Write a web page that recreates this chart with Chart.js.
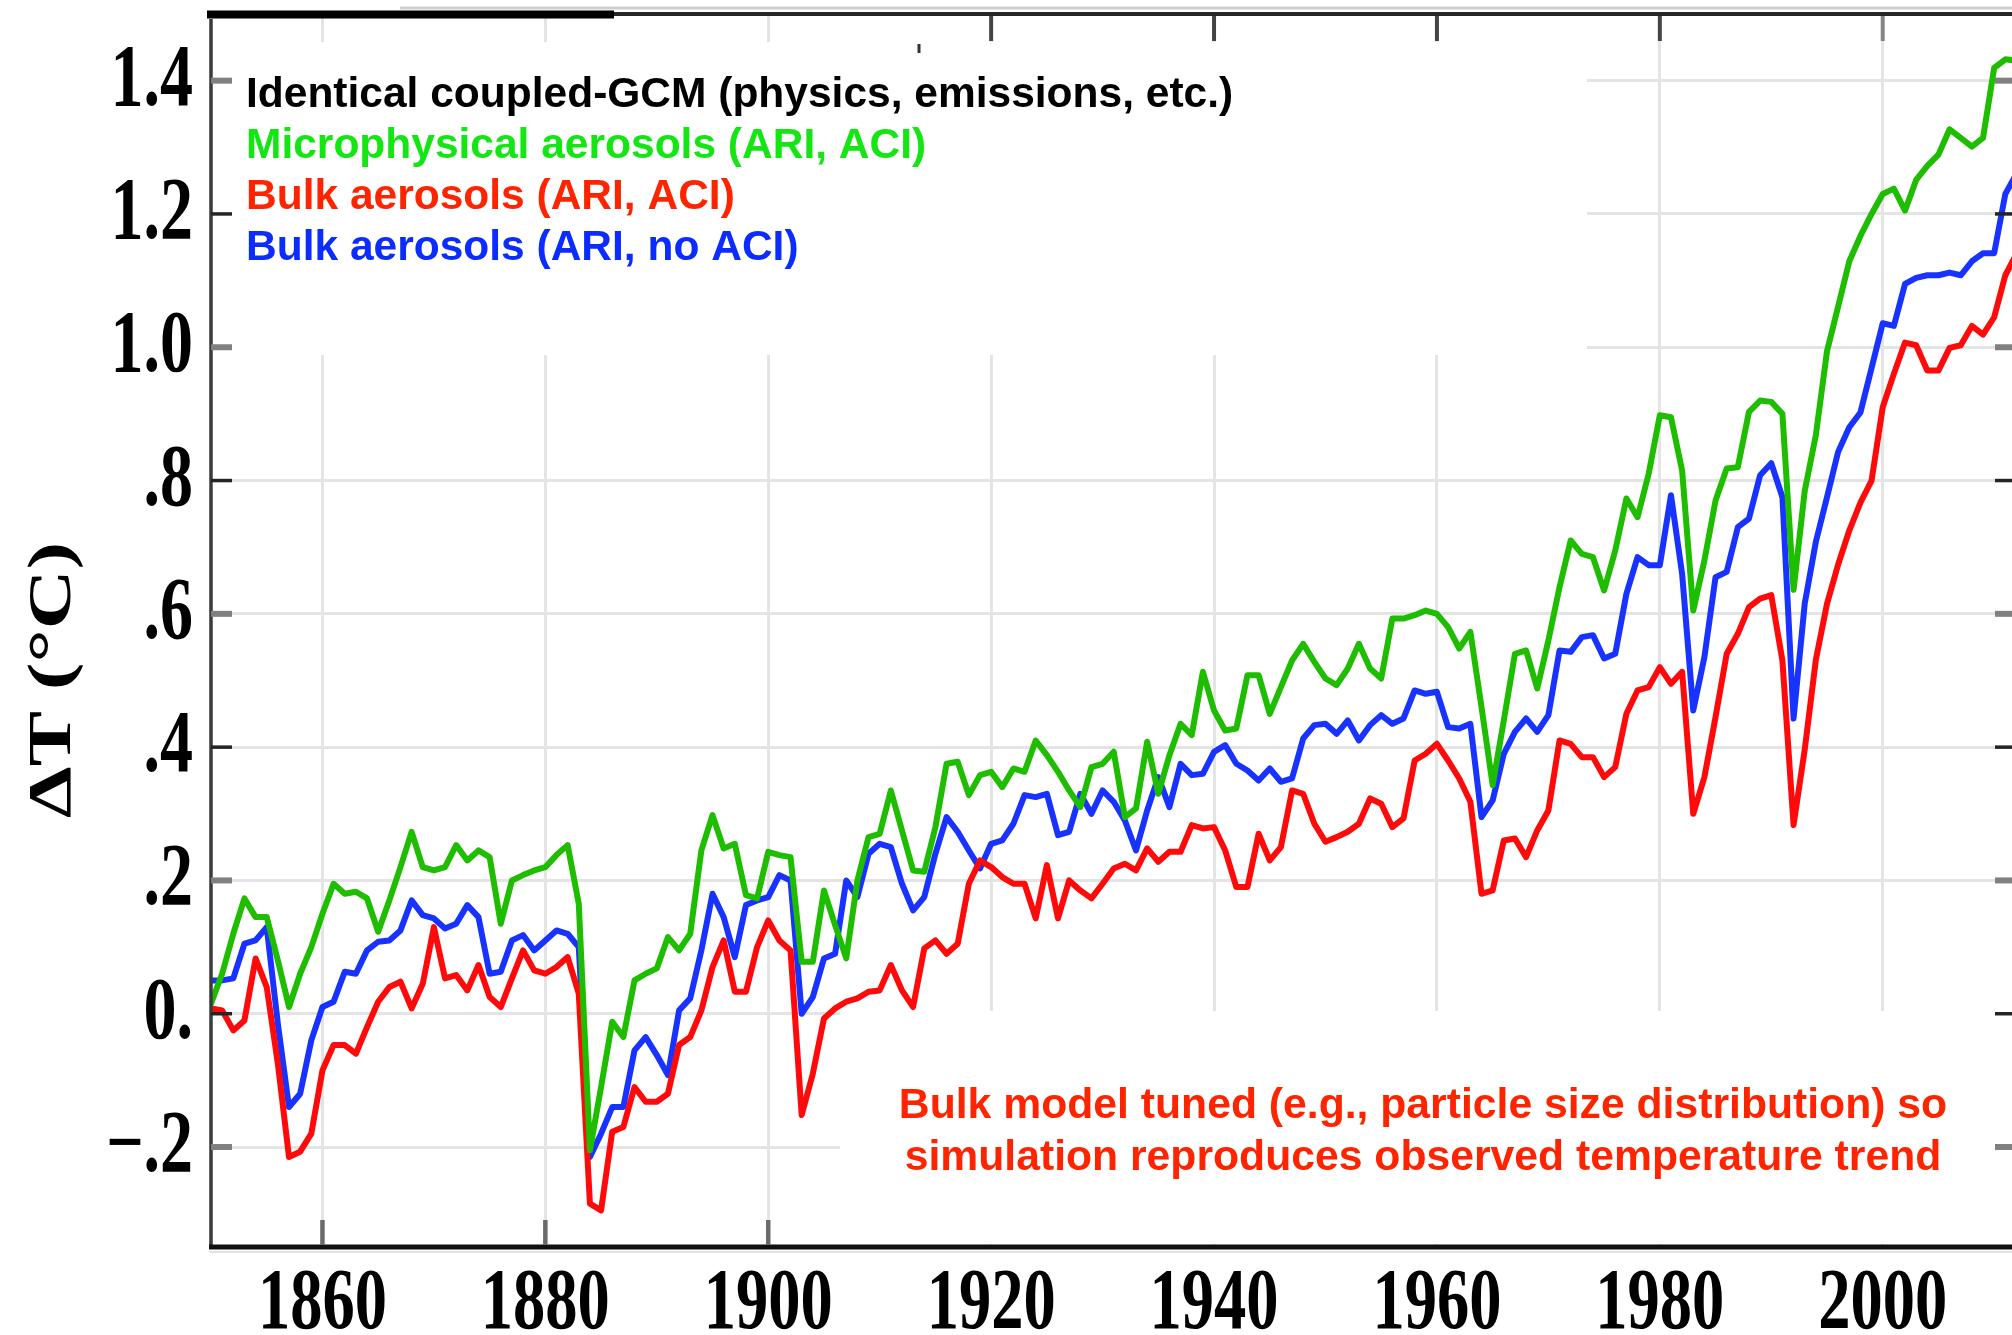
<!DOCTYPE html>
<html>
<head>
<meta charset="utf-8">
<title>ΔT (°C) – coupled-GCM aerosol runs</title>
<script src="https://cdn.jsdelivr.net/npm/chart.js@4.4.1/dist/chart.umd.min.js"></script>
<style>
  html, body { margin: 0; padding: 0; background: #fff; overflow: hidden; }
  canvas { display: block; }
</style>
</head>
<body>
<canvas id="chart" width="2012" height="1335"></canvas>
<script>
// annual model output, 1850-2012
const years = [
  1850, 1851, 1852, 1853, 1854, 1855, 1856, 1857, 1858, 1859,
  1860, 1861, 1862, 1863, 1864, 1865, 1866, 1867, 1868, 1869,
  1870, 1871, 1872, 1873, 1874, 1875, 1876, 1877, 1878, 1879,
  1880, 1881, 1882, 1883, 1884, 1885, 1886, 1887, 1888, 1889,
  1890, 1891, 1892, 1893, 1894, 1895, 1896, 1897, 1898, 1899,
  1900, 1901, 1902, 1903, 1904, 1905, 1906, 1907, 1908, 1909,
  1910, 1911, 1912, 1913, 1914, 1915, 1916, 1917, 1918, 1919,
  1920, 1921, 1922, 1923, 1924, 1925, 1926, 1927, 1928, 1929,
  1930, 1931, 1932, 1933, 1934, 1935, 1936, 1937, 1938, 1939,
  1940, 1941, 1942, 1943, 1944, 1945, 1946, 1947, 1948, 1949,
  1950, 1951, 1952, 1953, 1954, 1955, 1956, 1957, 1958, 1959,
  1960, 1961, 1962, 1963, 1964, 1965, 1966, 1967, 1968, 1969,
  1970, 1971, 1972, 1973, 1974, 1975, 1976, 1977, 1978, 1979,
  1980, 1981, 1982, 1983, 1984, 1985, 1986, 1987, 1988, 1989,
  1990, 1991, 1992, 1993, 1994, 1995, 1996, 1997, 1998, 1999,
  2000, 2001, 2002, 2003, 2004, 2005, 2006, 2007, 2008, 2009,
  2010, 2011, 2012
];

const microphysical = [
  0.015, 0.06, 0.12, 0.173, 0.145, 0.145, 0.08, 0.01, 0.06, 0.10,
  0.15, 0.195, 0.18, 0.183, 0.173, 0.123, 0.17, 0.22, 0.273, 0.22,
  0.215, 0.22, 0.253, 0.23, 0.245, 0.235, 0.135, 0.2, 0.208, 0.215,
  0.22, 0.238, 0.253, 0.165, -0.205, -0.11, -0.012, -0.035, 0.05, 0.06,
  0.068, 0.115, 0.095, 0.12, 0.245, 0.298, 0.248, 0.255, 0.178, 0.173,
  0.243, 0.238, 0.235, 0.078, 0.078, 0.185, 0.133, 0.083, 0.2, 0.265,
  0.27, 0.335, 0.275, 0.215, 0.213, 0.28, 0.375, 0.378, 0.328, 0.358,
  0.363, 0.34, 0.368, 0.363, 0.41, 0.388, 0.363, 0.335, 0.31, 0.37,
  0.375, 0.393, 0.295, 0.308, 0.408, 0.33, 0.388, 0.435, 0.418, 0.513,
  0.455, 0.425, 0.428, 0.508, 0.508, 0.45, 0.49, 0.53, 0.555, 0.528,
  0.503, 0.493, 0.518, 0.555, 0.518, 0.503, 0.593, 0.593, 0.598, 0.605,
  0.6, 0.58, 0.548, 0.573, 0.46, 0.343, 0.44, 0.54, 0.545, 0.488,
  0.56, 0.64, 0.71, 0.69, 0.685, 0.635, 0.695, 0.773, 0.745, 0.81,
  0.898, 0.895, 0.815, 0.605, 0.68, 0.77, 0.818, 0.82, 0.903, 0.92,
  0.918, 0.9, 0.636, 0.784, 0.868, 0.994, 1.061, 1.129, 1.167, 1.2,
  1.23, 1.238, 1.205, 1.251, 1.272, 1.289, 1.327, 1.314, 1.301, 1.314,
  1.419, 1.432, 1.43
];

const bulkAci = [
  0.008, 0.005, -0.025, -0.01, 0.083, 0.04, -0.075, -0.215, -0.207, -0.18,
  -0.085, -0.047, -0.047, -0.06, -0.02, 0.018, 0.04, 0.048, 0.008, 0.045,
  0.13, 0.053, 0.058, 0.035, 0.073, 0.025, 0.01, 0.053, 0.095, 0.065,
  0.06, 0.07, 0.085, 0.03, -0.285, -0.295, -0.177, -0.17, -0.11, -0.132,
  -0.132, -0.12, -0.047, -0.035, 0.005, 0.07, 0.11, 0.033, 0.033, 0.1,
  0.14, 0.11, 0.095, -0.152, -0.09, -0.007, 0.008, 0.018, 0.023, 0.033,
  0.035, 0.073, 0.035, 0.01, 0.098, 0.11, 0.09, 0.105, 0.195, 0.23,
  0.22, 0.205, 0.195, 0.195, 0.143, 0.223, 0.143, 0.2, 0.185, 0.173,
  0.195, 0.218, 0.225, 0.215, 0.248, 0.228, 0.243, 0.243, 0.283, 0.278,
  0.28, 0.245, 0.19, 0.19, 0.27, 0.23, 0.25, 0.335, 0.33, 0.285,
  0.258, 0.265, 0.273, 0.285, 0.323, 0.315, 0.28, 0.293, 0.38, 0.39,
  0.405, 0.38, 0.353, 0.318, 0.18, 0.185, 0.26, 0.263, 0.235, 0.275,
  0.305, 0.41, 0.405, 0.385, 0.385, 0.355, 0.37, 0.45, 0.485, 0.49,
  0.52, 0.495, 0.513, 0.3, 0.355, 0.445, 0.54, 0.57, 0.61, 0.623,
  0.628, 0.53, 0.283, 0.396, 0.531, 0.615, 0.674, 0.725, 0.767, 0.8,
  0.91, 0.96, 1.007, 1.003, 0.965, 0.965, 0.999, 1.003, 1.032, 1.019,
  1.045, 1.108, 1.14
];

const bulkNoAci = [
  0.05, 0.05, 0.053, 0.105, 0.11, 0.13, -0.015, -0.14, -0.12, -0.04,
  0.01, 0.018, 0.063, 0.06, 0.095, 0.108, 0.11, 0.125, 0.17, 0.148,
  0.143, 0.128, 0.135, 0.163, 0.145, 0.06, 0.063, 0.11, 0.118, 0.095,
  0.11, 0.125, 0.12, 0.1, -0.215, -0.18, -0.14, -0.14, -0.055, -0.035,
  -0.062, -0.092, 0.005, 0.023, 0.095, 0.18, 0.145, 0.085, 0.163, 0.17,
  0.175, 0.208, 0.2, 0.0, 0.025, 0.083, 0.09, 0.2, 0.175, 0.24,
  0.255, 0.25, 0.195, 0.155, 0.175, 0.24, 0.295, 0.273, 0.245, 0.218,
  0.255, 0.26, 0.285, 0.328, 0.325, 0.33, 0.268, 0.273, 0.33, 0.3,
  0.335, 0.318, 0.29, 0.245, 0.305, 0.355, 0.31, 0.375, 0.358, 0.36,
  0.393, 0.403, 0.375, 0.365, 0.35, 0.368, 0.348, 0.353, 0.413, 0.433,
  0.435, 0.42, 0.44, 0.41, 0.433, 0.448, 0.435, 0.443, 0.485, 0.48,
  0.483, 0.43, 0.428, 0.435, 0.295, 0.32, 0.39, 0.423, 0.443, 0.423,
  0.448, 0.545, 0.543, 0.565, 0.568, 0.533, 0.54, 0.63, 0.685, 0.673,
  0.673, 0.778, 0.66, 0.455, 0.535, 0.655, 0.663, 0.73, 0.743, 0.808,
  0.826, 0.775, 0.443, 0.615, 0.708, 0.775, 0.843, 0.88, 0.902, 0.969,
  1.036, 1.032, 1.095, 1.104, 1.108, 1.108, 1.112, 1.108, 1.129, 1.141,
  1.141, 1.23, 1.26
];

const xTicks = [1860, 1880, 1900, 1920, 1940, 1960, 1980, 2000];
const xTickLabels = ['1860', '1880', '1900', '1920', '1940', '1960', '1980', '2000'];
const yTicks = [1.4, 1.2, 1.0, 0.8, 0.6, 0.4, 0.2, 0, -0.2];
const yTickLabels = ['1.4', '1.2', '1.0', '.8', '.6', '.4', '.2', '0.', '\u2212.2'];

const legendLines = [
  { text: 'Identical coupled-GCM (physics, emissions, etc.)', color: '#000000' },
  { text: 'Microphysical aerosols (ARI, ACI)', color: '#14e614' },
  { text: 'Bulk aerosols (ARI, ACI)', color: '#ff2400' },
  { text: 'Bulk aerosols (ARI, no ACI)', color: '#0c2cff' }
];
const noteLines = [
  'Bulk model tuned (e.g., particle size distribution) so',
  'simulation reproduces observed temperature trend'
];

const pts = (vals) => vals.map((v, i) => ({ x: years[i], y: v }));

const SERIF = '"Liberation Serif", "DejaVu Serif", serif';
const SANS = '"Liberation Sans", Arial, sans-serif';

// text squeezed horizontally, like the narrow bold serif numerals
function squeezed(ctx, text, x, y, align, sx) {
  ctx.save();
  ctx.translate(x, y);
  ctx.scale(sx, 1);
  ctx.textAlign = align;
  ctx.fillText(text, 0, 0);
  ctx.restore();
}

function line(ctx, x1, y1, x2, y2, color, w) {
  ctx.beginPath();
  ctx.strokeStyle = color;
  ctx.lineWidth = w;
  ctx.moveTo(x1, y1);
  ctx.lineTo(x2, y2);
  ctx.stroke();
}

const frame = {
  id: 'frame',
  // white panels that hide the grid behind the legend and the note
  beforeDatasetsDraw(chart) {
    const ctx = chart.ctx;
    const a = chart.chartArea;
    ctx.save();
    ctx.fillStyle = '#ffffff';
    ctx.fillRect(a.left + 2, 42, 1587 - a.left - 2, 355 - 42);
    ctx.fillRect(840, 1011, 1998 - 840, a.bottom - 3 - 1011);
    ctx.restore();
  },
  afterDraw(chart) {
    const ctx = chart.ctx;
    const a = chart.chartArea;
    const xs = chart.scales.x;
    const ys = chart.scales.y;
    ctx.save();
    ctx.lineCap = 'butt';

    // top frame: heavy black piece on the left, thinner line after it
    line(ctx, 400, 8, a.right, 8, '#cfcfcf', 3);
    line(ctx, 207, 14.5, 614, 14.5, '#000000', 8);
    line(ctx, 614, 14, a.right, 14, '#262626', 4);

    // left and bottom axes
    line(ctx, a.left, 19, a.left, a.bottom, '#3a3a3a', 3.5);
    line(ctx, a.left - 2, a.bottom + 5, a.right, a.bottom + 5, '#e2e2e2', 2);
    line(ctx, a.left - 2, a.bottom, a.right, a.bottom, '#111111', 5);

    // inward ticks on both sides
    yTicks.forEach((v, i) => {
      const py = ys.getPixelForValue(v);
      const dark = i % 2 === 1;
      const c = dark ? '#242424' : '#808080';
      const w = dark ? 3.5 : 6;
      line(ctx, a.left, py, a.left + 21, py, c, w);
      line(ctx, a.right - 17, py, a.right, py, c, w);
    });
    xTicks.forEach((yr) => {
      const px = xs.getPixelForValue(yr);
      if (px < 840) line(ctx, px, a.bottom - 27, px, a.bottom - 2, '#6a6a6a', 4.5);
      if (yr >= 1920) line(ctx, px, 16, px, 41, yr === 2000 ? '#858585' : '#444444', 4);
    });
    line(ctx, 919, 44, 919, 53, '#333333', 3);

    // tick labels
    ctx.fillStyle = '#000000';
    ctx.textBaseline = 'alphabetic';
    ctx.font = 'bold 88px ' + SERIF;
    yTicks.forEach((v, i) => {
      squeezed(ctx, yTickLabels[i], 193, ys.getPixelForValue(v) + 24, 'right', 0.75);
    });
    ctx.font = 'bold 86px ' + SERIF;
    xTicks.forEach((yr, i) => {
      squeezed(ctx, xTickLabels[i], xs.getPixelForValue(yr), 1328, 'center', 0.75);
    });

    // axis title, stretched along its length like the numerals
    ctx.save();
    ctx.translate(54, 680);
    ctx.rotate(-Math.PI / 2);
    ctx.scale(1.36, 1);
    ctx.font = 'bold 61px ' + SERIF;
    ctx.textAlign = 'center';
    ctx.textBaseline = 'middle';
    ctx.fillText('\u0394T (\u00B0C)', 0, 0);
    ctx.restore();

    // legend
    ctx.font = 'bold 42.5px ' + SANS;
    ctx.textAlign = 'left';
    ctx.textBaseline = 'alphabetic';
    legendLines.forEach((l, i) => {
      ctx.fillStyle = l.color;
      ctx.fillText(l.text, 246, 106.7 + i * 51.1);
    });

    // note
    ctx.font = 'bold 42.7px ' + SANS;
    ctx.fillStyle = '#ff2400';
    ctx.textAlign = 'center';
    noteLines.forEach((t, i) => {
      ctx.fillText(t, 1423, 1118 + i * 51.5);
    });
    ctx.restore();
  }
};

const gridStyle = { color: '#e4e4e4', lineWidth: 3, drawTicks: false };

new Chart(document.getElementById('chart'), {
  type: 'line',
  data: {
    datasets: [
      { label: legendLines[1].text, data: pts(microphysical), borderColor: '#1fbd00' },
      { label: legendLines[2].text, data: pts(bulkAci), borderColor: '#ff0a0a' },
      { label: legendLines[3].text, data: pts(bulkNoAci), borderColor: '#1833ff' }
    ]
  },
  options: {
    responsive: false,
    animation: false,
    events: [],
    layout: { padding: { left: 211, right: 0, top: 14, bottom: 88 } },
    plugins: { legend: { display: false }, tooltip: { enabled: false } },
    elements: {
      point: { radius: 0 },
      line: { tension: 0, borderWidth: 6, borderJoinStyle: 'round', borderCapStyle: 'round', fill: false }
    },
    scales: {
      x: {
        type: 'linear',
        min: 1850,
        max: 2011.6,
        ticks: { display: false, stepSize: 20, includeBounds: false },
        grid: gridStyle,
        border: { display: false }
      },
      y: {
        min: -0.35,
        max: 1.5,
        ticks: { display: false, stepSize: 0.2, includeBounds: false },
        grid: gridStyle,
        border: { display: false }
      }
    }
  },
  plugins: [frame]
});
</script>
</body>
</html>
